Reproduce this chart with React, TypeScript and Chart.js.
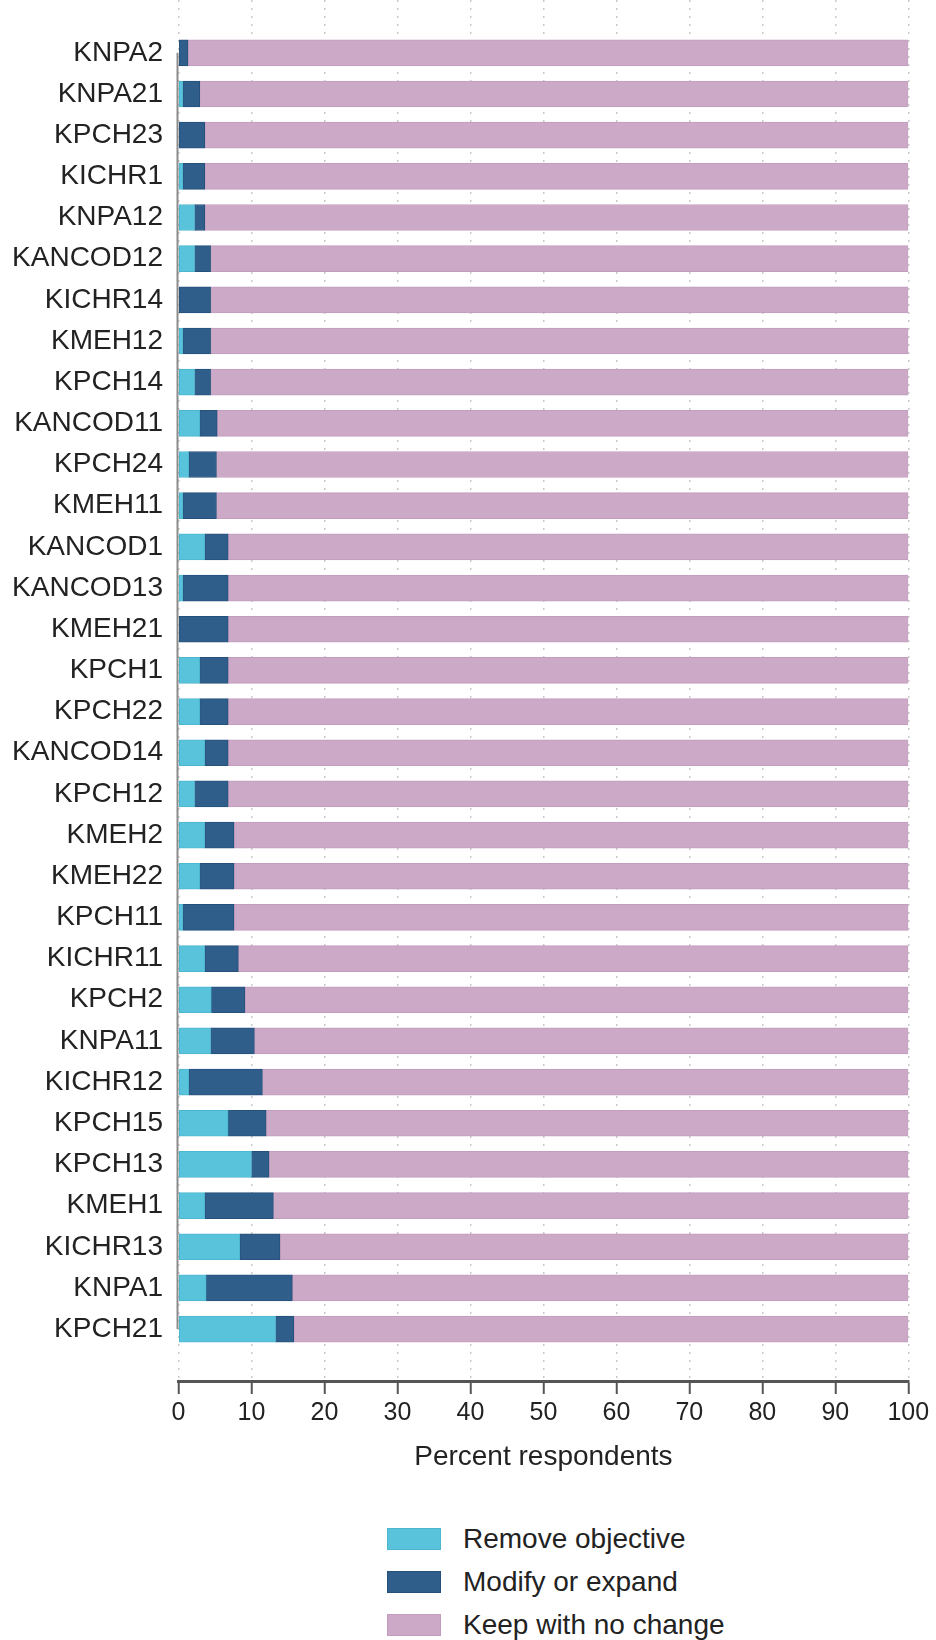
import React, { useEffect, useRef } from 'react';
import { Chart, registerables } from 'chart.js';

Chart.register(...registerables);

const categories = [
  'KNPA2', 'KNPA21', 'KPCH23', 'KICHR1', 'KNPA12', 'KANCOD12', 'KICHR14', 'KMEH12',
  'KPCH14', 'KANCOD11', 'KPCH24', 'KMEH11', 'KANCOD1', 'KANCOD13', 'KMEH21', 'KPCH1',
  'KPCH22', 'KANCOD14', 'KPCH12', 'KMEH2', 'KMEH22', 'KPCH11', 'KICHR11', 'KPCH2',
  'KNPA11', 'KICHR12', 'KPCH15', 'KPCH13', 'KMEH1', 'KICHR13', 'KNPA1', 'KPCH21',
];

const removeObjective = [
  0, 0.6, 0, 0.6, 2.2, 2.2, 0, 0.6,
  2.2, 2.9, 1.4, 0.6, 3.6, 0.6, 0, 2.9,
  2.9, 3.6, 2.2, 3.6, 2.9, 0.6, 3.6, 4.5,
  4.4, 1.4, 6.8, 10.0, 3.6, 8.4, 3.8, 13.3,
];

const modifyOrExpand = [
  1.3, 2.3, 3.6, 3.0, 1.4, 2.2, 4.4, 3.8,
  2.2, 2.4, 3.8, 4.6, 3.2, 6.2, 6.8, 3.9,
  3.9, 3.2, 4.6, 4.0, 4.7, 7.0, 4.6, 4.6,
  6.0, 10.1, 5.2, 2.4, 9.4, 5.5, 11.8, 2.5,
];

const keepWithNoChange = [
  98.7, 97.1, 96.4, 96.4, 96.4, 95.6, 95.6, 95.6,
  95.6, 94.7, 94.8, 94.8, 93.2, 93.2, 93.2, 93.2,
  93.2, 93.2, 93.2, 92.4, 92.4, 92.4, 91.8, 90.9,
  89.6, 88.5, 88.0, 87.6, 87.0, 86.1, 84.4, 84.2,
];

const xTickValues = [0, 10, 20, 30, 40, 50, 60, 70, 80, 90, 100];

const seriesNames = ['Remove objective', 'Modify or expand', 'Keep with no change'];
const seriesColors = ['#58C3DA', '#2F5E8B', '#CCA9C7'];
const seriesBorders = ['#4DB6CF', '#26517C', '#C39DBE'];
const seriesValues = [removeObjective, modifyOrExpand, keepWithNoChange];

const Y_MIN = -1.283;
const Y_MAX = 32.26;

const FONT_FAMILY = '"Liberation Sans", Arial, sans-serif';
const TEXT_COLOR = '#222222';

const yAxisLinePlugin = {
  id: 'yAxisLine',
  beforeDatasetsDraw(chart: any) {
    const { ctx, scales } = chart;
    const xs = scales.x;
    const ys = scales.y;
    const px = xs.getPixelForValue(0) - 1;
    ctx.save();
    ctx.strokeStyle = '#8c8c8c';
    ctx.lineWidth = 2;
    ctx.beginPath();
    ctx.moveTo(px, ys.getPixelForValue(0));
    ctx.lineTo(px, ys.getPixelForValue(categories.length - 1));
    ctx.stroke();
    ctx.restore();
  },
};

export default function App() {
  const canvasRef = useRef<HTMLCanvasElement | null>(null);

  useEffect(() => {
    if (!canvasRef.current) return;
    const labelFont = { family: FONT_FAMILY, size: 28 };
    const tickFont = { family: FONT_FAMILY, size: 25 };
    const chart = new Chart(canvasRef.current, {
      type: 'bar',
      data: {
        datasets: seriesNames.map((name, s) => ({
          label: name,
          data: seriesValues[s].map((v, i) => ({ x: v, y: i })),
          backgroundColor: seriesColors[s],
          borderColor: seriesBorders[s],
          borderWidth: 1,
          borderSkipped: false,
          barThickness: 26,
        })),
      },
      options: {
        indexAxis: 'y',
        animation: false,
        responsive: false,
        layout: { padding: { left: 0, right: 27.7, top: 0, bottom: 0 } },
        plugins: {
          legend: { display: false },
          tooltip: { enabled: false },
        },
        scales: {
          y: {
            type: 'linear',
            reverse: true,
            offset: false,
            bounds: 'data',
            min: Y_MIN,
            max: Y_MAX,
            stacked: true,
            grid: { display: false, drawTicks: false, offset: false },
            border: { display: false },
            afterBuildTicks: (s: any) => {
              s.ticks = categories.map((_, i) => ({ value: i }));
              s.min = Y_MIN;
              s.max = Y_MAX;
              s.start = Y_MAX;
              s.end = Y_MIN;
            },
            afterFit: (s: any) => {
              s.width = 178.5;
              s.paddingTop = 0;
              s.paddingBottom = 0;
            },
            ticks: {
              autoSkip: false,
              padding: 15.5,
              color: TEXT_COLOR,
              font: labelFont,
              callback: (v: any) => categories[v] ?? '',
            },
          },
          x: {
            type: 'linear',
            min: 0,
            max: 100,
            stacked: true,
            afterBuildTicks: (s: any) => {
              s.ticks = xTickValues.map((v) => ({ value: v }));
            },
            afterFit: (s: any) => {
              s.height = 99;
            },
            grid: {
              color: '#c9c9c9',
              lineWidth: 1.5,
              tickLength: 13,
              tickColor: '#555555',
              tickWidth: 2,
            },
            border: { display: true, color: '#555555', width: 3, dash: [2, 6] },
            ticks: {
              padding: 4,
              color: TEXT_COLOR,
              font: tickFont,
              maxRotation: 0,
              autoSkip: false,
            },
            title: {
              display: true,
              text: 'Percent respondents',
              color: TEXT_COLOR,
              font: labelFont,
              padding: { top: 0, bottom: 6 },
            },
          },
        },
      },
      plugins: [yAxisLinePlugin],
    } as any);
    return () => chart.destroy();
  }, []);

  return (
    <div
      style={{
        position: 'absolute',
        left: 0,
        top: 0,
        width: 936,
        height: 1640,
        overflow: 'hidden',
        background: '#ffffff',
      }}
    >
      <canvas ref={canvasRef} width={936} height={1480} style={{ display: 'block' }} />
      <div style={{ position: 'absolute', left: 387, top: 1517 }}>
        {seriesNames.map((name, s) => (
          <div
            key={name}
            style={{
              display: 'flex',
              alignItems: 'center',
              height: 43,
              fontFamily: FONT_FAMILY,
              fontSize: 28,
              color: TEXT_COLOR,
              whiteSpace: 'nowrap',
            }}
          >
            <span
              style={{
                display: 'inline-block',
                width: 52,
                height: 20,
                background: seriesColors[s],
                border: `1px solid ${seriesBorders[s]}`,
                marginRight: 22,
              }}
            />
            <span>{name}</span>
          </div>
        ))}
      </div>
    </div>
  );
}
